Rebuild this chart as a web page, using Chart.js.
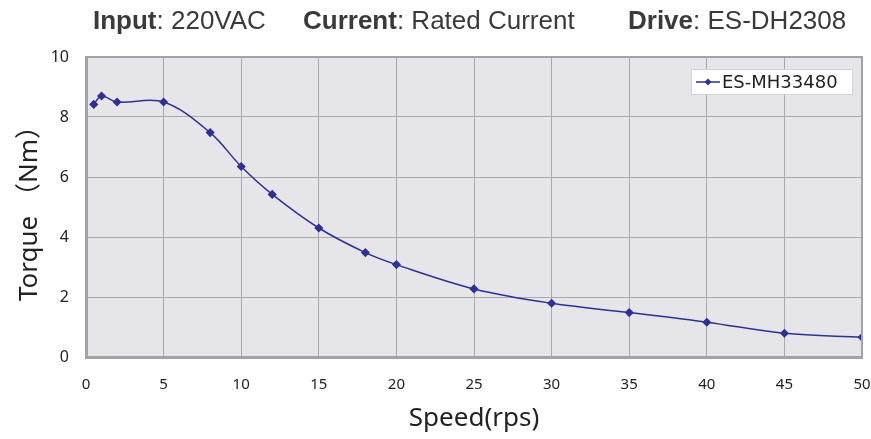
<!DOCTYPE html>
<html>
<head>
<meta charset="utf-8">
<script src="https://cdn.jsdelivr.net/npm/chart.js@4"></script>
<style>
  body { margin: 0; background: #fff; }
  #wrap { position: relative; width: 871px; height: 439px; }
  #header span.item { position: absolute; top: 7px; font: 26px "Liberation Sans", Arial, sans-serif; color: #3a3a3a; white-space: nowrap; line-height: 26px; }
  #header b { font-weight: bold; }
</style>
</head>
<body>
<div id="wrap">
  <canvas id="chart" width="871" height="439"></canvas>
  <div id="header">
    <span class="item" style="left:93px"><b>Input</b>: 220VAC</span>
    <span class="item" style="left:303px"><b>Current</b>: Rated Current</span>
    <span class="item" style="left:628px"><b>Drive</b>: ES-DH2308</span>
  </div>
</div>
<script>
// speed in rps, torque in Nm
const speed = [0.5, 1, 2, 5, 8, 10, 12, 15, 18, 20, 25, 30, 35, 40, 45, 50];
const torque = [8.42, 8.7, 8.5, 8.5, 7.48, 6.35, 5.42, 4.3, 3.48, 3.08, 2.27, 1.79, 1.48, 1.16, 0.79, 0.66];
const seriesName = 'ES-MH33480';
const xTicks = [0, 5, 10, 15, 20, 25, 30, 35, 40, 45, 50];
const yTicks = [0, 2, 4, 6, 8, 10];

const lineColor = '#2e3192';
const gridColor = '#a9a9a9';
const labelFont = '"Noto Sans", "Noto Sans CJK SC", sans-serif';

// plot background + legend box
const plotDecor = {
    id: 'plotDecor',
    beforeDraw(chart) {
        const { ctx, chartArea: a } = chart;
        ctx.save();
        ctx.fillStyle = '#e6e6ea';
        ctx.fillRect(a.left, a.top, a.right - a.left, a.bottom - a.top);
        ctx.restore();
    },
    afterDraw(chart) {
        const { ctx, chartArea: a } = chart;
        const ds = chart.data.datasets[0];
        const w = 161, h = 25;
        const x = a.right - 10 - w, y = a.top + 12;
        ctx.save();
        // right/top border
        ctx.strokeStyle = '#a3a3a3';
        ctx.lineWidth = 2;
        ctx.beginPath();
        ctx.moveTo(a.left, a.top);
        ctx.lineTo(a.right, a.top);
        ctx.lineTo(a.right, a.bottom);
        ctx.stroke();
        // legend
        ctx.fillStyle = '#fff';
        ctx.fillRect(x, y, w, h);
        ctx.strokeStyle = '#d4d4d4';
        ctx.lineWidth = 1;
        ctx.strokeRect(x + 0.5, y + 0.5, w, h);
        const cy = y + h / 2 + 0.5;
        ctx.strokeStyle = lineColor;
        ctx.lineWidth = 1.5;
        ctx.beginPath();
        ctx.moveTo(x + 5, cy);
        ctx.lineTo(x + 29, cy);
        ctx.stroke();
        ctx.fillStyle = lineColor;
        ctx.beginPath();
        ctx.moveTo(x + 17, cy - 3.5);
        ctx.lineTo(x + 20.5, cy);
        ctx.lineTo(x + 17, cy + 3.5);
        ctx.lineTo(x + 13.5, cy);
        ctx.closePath();
        ctx.fill();
        ctx.fillStyle = '#222';
        ctx.font = '18px "DejaVu Sans", sans-serif';
        ctx.textBaseline = 'middle';
        ctx.fillText(ds.label, x + 31, cy + 1);
        ctx.restore();
    }
};

const ctx = document.getElementById('chart').getContext('2d');
const chart = new Chart(ctx, {
    type: 'line',
    data: {
        datasets: [{
            label: seriesName,
            data: speed.map((s, i) => ({ x: s, y: torque[i] })),
            borderColor: lineColor,
            backgroundColor: lineColor,
            borderWidth: 1.5,
            pointStyle: 'rectRot',
            pointRadius: 3.5,
            pointHoverRadius: 3.5,
            tension: 0.35
        }]
    },
    options: {
        responsive: false,
        animation: false,
        layout: { padding: { top: 57, right: 9, left: 0, bottom: 0 } },
        plugins: {
            legend: { display: false },
            tooltip: { enabled: false }
        },
        scales: {
            x: {
                type: 'linear',
                min: 0,
                max: 50,
                afterBuildTicks: (s) => { s.ticks = xTicks.map(v => ({ value: v })); },
                afterFit: (s) => { s.height = 82; s.paddingLeft = 0; s.paddingRight = 0; },
                grid: { color: gridColor, lineWidth: 1, drawTicks: false },
                border: { color: '#a3a3a3', width: 3 },
                ticks: { padding: 19, color: '#222', font: { family: labelFont, size: 15 } },
                title: {
                    display: true,
                    text: 'Speed(rps)',
                    color: '#222',
                    font: { family: labelFont, size: 26 },
                    padding: { top: 0, bottom: 5 }
                }
            },
            y: {
                min: 0,
                max: 10,
                afterBuildTicks: (s) => { s.ticks = yTicks.map(v => ({ value: v })); },
                afterFit: (s) => { s.width = 86; s.paddingTop = 0; s.paddingBottom = 0; },
                grid: { color: gridColor, lineWidth: 1, drawTicks: false },
                border: { color: '#a3a3a3', width: 3 },
                ticks: { padding: 17, color: '#222', font: { family: labelFont, size: 16 } },
                title: {
                    display: true,
                    text: 'Torque （Nm）',
                    color: '#222',
                    font: { family: labelFont, size: 26 },
                    padding: { top: 14, bottom: 0 }
                }
            }
        }
    },
    plugins: [plotDecor]
});
</script>
</body>
</html>
